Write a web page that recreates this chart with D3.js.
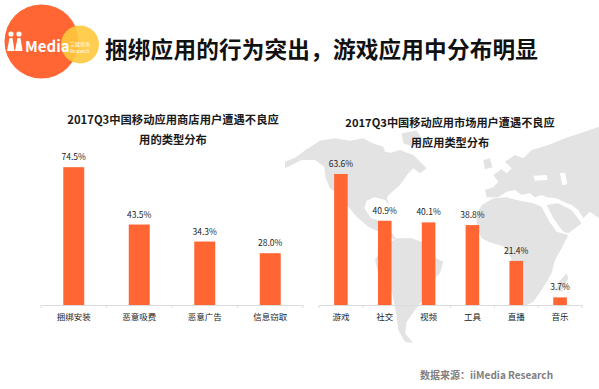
<!DOCTYPE html>
<html>
<head>
<meta charset="utf-8">
<script src="https://cdn.jsdelivr.net/npm/d3@7"></script>
<style>
    html, body { margin: 0; padding: 0; background: #fff; }
    text { font-family: "Noto Sans CJK SC", "Noto Sans", sans-serif; }
    .axis path, .axis line { stroke: #dcdcdc; }
</style>
</head>
<body>
<div id="chart"></div>
<script>
const pageTitle = '捆绑应用的行为突出，游戏应用中分布明显';
const sourceNote = '数据来源：iiMedia Research';

const storeTitle = ['2017Q3中国移动应用商店用户遭遇不良应', '用的类型分布'];
const storeCategories = ['捆绑安装', '恶意吸费', '恶意广告', '信息窃取'];
const storeValues = [74.5, 43.5, 34.3, 28.0];

const marketTitle = ['2017Q3中国移动应用市场用户遭遇不良应', '用应用类型分布'];
const marketCategories = ['游戏', '社交', '视频', '工具', '直播', '音乐'];
const marketValues = [63.6, 40.9, 40.1, 38.8, 21.4, 3.7];

const orange = '#ff6633';

const svg = d3.select('#chart').append('svg')
    .attr('width', 599)
    .attr('height', 389)
    .style('display', 'block');

// background world map, rough outlines traced by hand off a 3x crop
const landShapes = [
    // north america
    'M0,155 L30,143 L65,118 L105,92 L150,85 L195,92 L235,85 L262,100 L295,110 L300,125 L318,128 L345,120 L358,125 L385,135 L400,150 L425,175 L405,190 L385,175 L370,190 L345,225 L322,245 L305,262 L312,285 L300,270 L268,262 L245,272 L238,295 L258,325 L278,330 L282,345 L310,355 L340,395 L320,385 L290,370 L250,350 L215,320 L190,290 L165,255 L135,235 L122,205 L118,170 L90,150 L50,150 L0,175 Z',
    // arctic islands
    'M350,70 L395,62 L410,85 L385,110 L355,100 Z',
    // south america
    'M335,385 L380,385 L410,395 L445,440 L475,455 L465,490 L440,515 L425,555 L390,600 L365,635 L360,670 L385,700 L360,695 L340,660 L335,620 L320,540 L280,490 L270,450 L290,415 Z',
    // eurasia
    'M640,215 L625,195 L650,178 L665,190 L680,175 L660,155 L690,135 L715,145 L740,120 L790,105 L840,85 L890,68 L942,50 L942,325 L915,305 L895,325 L880,300 L860,285 L835,275 L815,265 L785,262 L770,255 L750,262 L735,250 L710,255 L690,240 L665,245 L640,262 L605,262 L600,240 L625,232 Z',
    // uk
    'M595,150 L615,145 L622,172 L600,178 Z',
    // africa
    'M590,285 L625,265 L665,262 L705,272 L745,280 L770,290 L790,330 L815,365 L850,375 L830,415 L810,450 L800,490 L770,540 L745,575 L715,590 L700,560 L690,500 L680,450 L660,410 L610,395 L590,385 L575,350 L575,315 Z',
    // arabia
    'M785,285 L820,280 L860,300 L890,340 L850,370 L835,365 L805,325 Z',
    // madagascar
    'M845,490 L850,505 L830,545 L815,540 L822,515 Z'
];
// caspian and black sea punched back out
const seaShapes = [
    'M825,190 L840,188 L847,222 L832,226 Z',
    'M745,197 L785,195 L788,210 L750,212 Z'
];

const mapG = svg.append('g')
    .attr('transform', 'translate(285,110) scale(0.3333)');
mapG.selectAll('.land')
    .data(landShapes)
    .join('path')
    .attr('class', 'land')
    .attr('d', d => d)
    .attr('fill', '#e3e3e3');
mapG.selectAll('.sea')
    .data(seaShapes)
    .join('path')
    .attr('class', 'sea')
    .attr('d', d => d)
    .attr('fill', '#fff');

// logo
const logo = svg.append('g');
logo.append('circle').attr('cx', 41.5).attr('cy', 41.5).attr('r', 37).attr('fill', orange);
logo.append('circle').attr('cx', 80).attr('cy', 44.5).attr('r', 19).attr('fill', '#ffc83c').attr('fill-opacity', 0.9);
logo.selectAll('.dot').data([11, 19]).join('circle')
    .attr('class', 'dot').attr('cx', d => d).attr('cy', 34).attr('r', 2.6).attr('fill', '#fff');
logo.selectAll('.stem').data([11, 19]).join('path')
    .attr('class', 'stem')
    .attr('d', d => `M${d - 1.5},38 L${d + 1.5},38 L${d + 3.5},51 L${d - 4},51 Z`)
    .attr('fill', '#fff');
logo.append('text').attr('x', 25).attr('y', 52)
    .attr('font-size', 15).attr('font-weight', 700).attr('fill', '#fff').text('Media');
logo.append('text').attr('x', 70).attr('y', 46)
    .attr('font-size', 5).attr('fill', '#fff').text('艾媒咨询');
logo.append('text').attr('x', 70).attr('y', 52.5)
    .attr('font-size', 4.6).attr('fill', '#fff').text('Research');

svg.append('text')
    .attr('x', 105)
    .attr('y', 58)
    .attr('font-size', 22.6)
    .attr('letter-spacing', 0.2)
    .attr('font-weight', 700)
    .attr('fill', '#111')
    .text(pageTitle);

svg.append('text')
    .attr('x', 420)
    .attr('y', 379)
    .attr('font-size', 10)
    .attr('font-weight', 700)
    .attr('fill', '#808080')
    .text(sourceNote);

function drawPanel(opts) {
    const x = d3.scaleBand()
        .domain(opts.categories)
        .range(opts.xRange)
        .paddingInner(opts.padding)
        .paddingOuter(opts.padding / 2);
    const y = d3.scaleLinear()
        .domain([0, opts.yMax])
        .range([305, opts.yTop]);

    const g = svg.append('g');

    g.selectAll('.title-line')
        .data(opts.title)
        .join('text')
        .attr('class', 'title-line')
        .attr('x', opts.titleX)
        .attr('y', (d, i) => opts.titleY + i * 20)
        .attr('text-anchor', 'middle')
        .attr('font-size', opts.titleSize)
        .attr('font-weight', 700)
        .attr('fill', '#1a1a1a')
        .text(d => d);

    g.selectAll('.bar')
        .data(opts.values)
        .join('rect')
        .attr('class', 'bar')
        .attr('x', (d, i) => x(opts.categories[i]))
        .attr('y', d => y(d))
        .attr('width', x.bandwidth())
        .attr('height', d => y(0) - y(d))
        .attr('fill', orange);

    g.selectAll('.value')
        .data(opts.values)
        .join('text')
        .attr('class', 'value')
        .attr('x', (d, i) => x(opts.categories[i]) + x.bandwidth() / 2)
        .attr('y', d => y(d) - 7)
        .attr('text-anchor', 'middle')
        .attr('font-size', 8.5)
        .attr('fill', '#222')
        .text(d => d.toFixed(1) + '%');

    const axis = d3.axisBottom(x).tickSize(0).tickPadding(9).tickSizeOuter(0);
    const axisG = g.append('g')
        .attr('class', 'axis')
        .attr('transform', 'translate(0,305)')
        .call(axis);
    axisG.selectAll('text').attr('font-size', 8.5).attr('fill', '#222');

    // ticks sit between the bands, d3 puts them on the centres
    const step = x.step();
    axisG.selectAll('.sep')
        .data(d3.range(opts.categories.length + 1))
        .join('line')
        .attr('class', 'sep')
        .attr('x1', i => opts.xRange[0] + i * step)
        .attr('x2', i => opts.xRange[0] + i * step)
        .attr('y1', 0)
        .attr('y2', 3);
}

drawPanel({
    categories: storeCategories,
    values: storeValues,
    title: storeTitle,
    titleX: 173,
    titleY: 124,
    titleSize: 11.3,
    xRange: [41, 303],
    padding: 0.68,
    yMax: 80,
    yTop: 157
});

drawPanel({
    categories: marketCategories,
    values: marketValues,
    title: marketTitle,
    titleX: 450,
    titleY: 127,
    titleSize: 11.2,
    xRange: [319, 582],
    padding: 0.69,
    yMax: 70,
    yTop: 160.8
});
</script>
</body>
</html>
